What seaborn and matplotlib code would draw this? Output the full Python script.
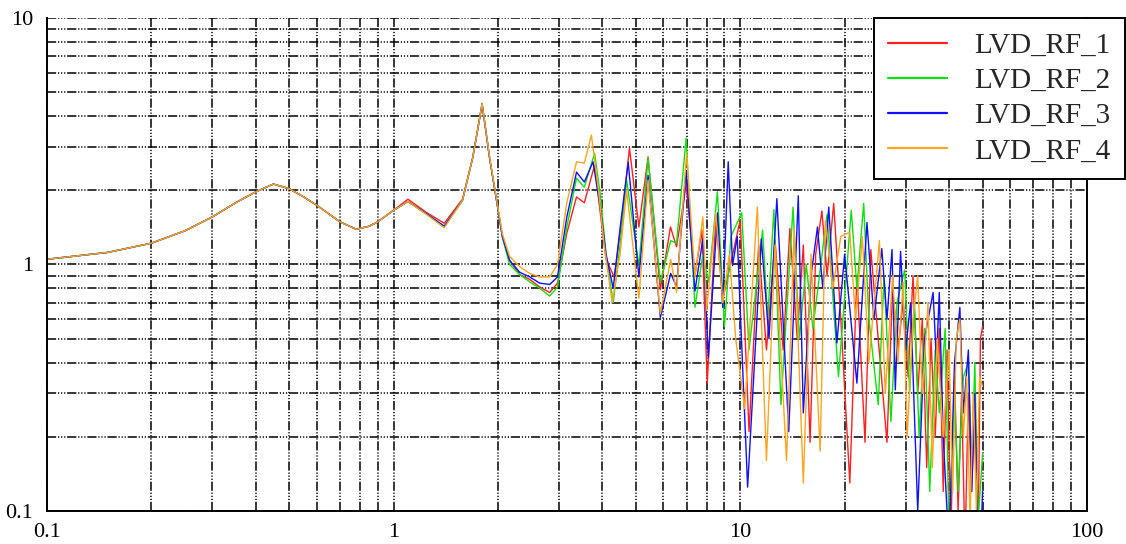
import matplotlib
matplotlib.use("Agg")
import matplotlib.pyplot as plt
from matplotlib.ticker import LogLocator, NullFormatter, FixedLocator, FixedFormatter
import seaborn as sns
import pandas as pd

# shared low-frequency part (all four responses coincide here)
base_f = [0.1, 0.15, 0.2, 0.25, 0.3, 0.35, 0.4, 0.45, 0.5, 0.55, 0.6, 0.7, 0.78, 0.85, 0.9, 1.0]
base_a = [1.05, 1.12, 1.22, 1.37, 1.56, 1.78, 1.97, 2.12, 2.03, 1.88, 1.74, 1.49, 1.39, 1.43, 1.49, 1.66]

rf1_f = [1.1, 1.24, 1.40, 1.58, 1.69, 1.74, 1.80, 1.89, 1.98, 2.06, 2.16, 2.31, 2.47, 2.64, 2.82, 2.97,
         3.16, 3.37, 3.55, 3.8, 3.95, 4.1, 4.33, 4.55, 4.79, 5.1, 5.42, 5.88, 6.29, 6.55, 6.98, 7.4,
         7.75, 8.03, 8.5, 8.9, 10.0, 10.6, 11.3, 11.9, 12.6, 13.3, 13.9, 14.6, 15.2, 15.9, 16.5, 17.2,
         17.8, 18.6, 19.5, 20.7, 21.7, 22.9, 23.8, 25.0, 26.5, 27.5, 28.5, 29.5, 30.5, 31.5, 32.5, 33.5,
         34.5, 35.5, 36.5, 37.5, 38.5, 39.5, 40.5, 41.5, 42.5, 43.5, 44.5, 45.5, 46.5, 47.5, 48.5, 49.3, 50.0]
rf1_a = [1.84, 1.63, 1.47, 1.84, 2.7, 3.4, 4.45, 2.73, 1.83, 1.29, 1.04, 0.91, 0.87, 0.81, 0.77, 0.84,
         1.34, 1.88, 1.78, 2.53, 1.6, 1.05, 0.89, 1.5, 2.97, 1.42, 2.73, 0.79, 1.42, 1.18, 2.1, 0.9,
         1.38, 0.33, 1.56, 0.72, 1.52, 0.21, 1.2, 0.45, 1.25, 0.45, 1.4, 0.5, 1.2, 0.19, 1.1, 1.65,
         0.9, 1.77, 0.6, 0.13, 0.9, 0.19, 1.15, 0.5, 0.19, 0.8, 0.45, 0.7, 0.35, 0.9, 0.3, 0.6,
         0.15, 0.5, 0.2, 0.55, 0.12, 0.45, 0.08, 0.35, 0.1, 0.3, 0.07, 0.3, 0.12, 0.25, 0.07, 0.5, 0.56]

rf2_f = [1.1, 1.24, 1.40, 1.58, 1.69, 1.74, 1.80, 1.89, 1.98, 2.06, 2.16, 2.31, 2.47, 2.64, 2.82, 2.97,
         3.16, 3.37, 3.55, 3.8, 3.95, 4.1, 4.3, 4.5, 4.7, 5.1, 5.42, 5.88, 6.3, 6.55, 6.98, 7.4,
         7.8, 8.1, 8.59, 9.0, 9.4, 10.1, 10.6, 11.6, 12.0, 12.5, 13.1, 14.2, 14.8, 15.5, 16.2, 17.8,
         19.2, 20.9, 21.7, 22.7, 23.5, 25.0, 26.0, 27.2, 28.3, 29.8, 30.8, 31.8, 32.8, 34.0, 35.2, 36.5,
         37.5, 39.0, 40.0, 41.5, 42.5, 44.0, 45.5, 46.5, 47.5, 48.5, 50.0]
rf2_a = [1.80, 1.61, 1.43, 1.82, 2.7, 3.4, 4.5, 2.73, 1.83, 1.29, 1.0, 0.91, 0.85, 0.80, 0.745, 0.81,
         1.42, 2.24, 2.06, 2.83, 1.9, 1.1, 0.70, 1.2, 2.2, 0.99, 2.7, 0.85, 1.25, 1.22, 3.26, 0.67,
         1.1, 0.85, 1.97, 0.56, 1.3, 1.62, 0.45, 1.38, 0.6, 1.67, 0.27, 1.71, 0.5, 1.0, 0.55, 1.6,
         0.35, 1.66, 0.8, 1.77, 0.6, 0.27, 0.9, 0.23, 0.7, 0.95, 0.3, 0.7, 0.2, 0.55, 0.12, 0.45,
         0.25, 0.55, 0.08, 0.3, 0.12, 0.35, 0.4, 0.15, 0.4, 0.09, 0.17]

rf3_f = [1.1, 1.24, 1.40, 1.58, 1.69, 1.74, 1.80, 1.89, 1.98, 2.06, 2.16, 2.31, 2.47, 2.64, 2.82, 2.97,
         3.16, 3.37, 3.55, 3.76, 3.95, 4.1, 4.3, 4.5, 4.75, 5.1, 5.42, 5.88, 6.3, 6.55, 6.98, 7.4,
         7.8, 8.09, 8.6, 8.9, 9.23, 9.5, 9.8, 10.5, 11.5, 12.1, 12.75, 13.8, 14.7, 15.2, 16.0, 16.7,
         17.3, 18.0, 19.0, 20.0, 21.7, 23.2, 24.3, 25.6, 26.5, 27.4, 28.0, 29.0, 30.0, 31.0, 32.5, 34.0,
         36.0, 36.8, 37.5, 38.5, 40.0, 41.5, 43.0, 44.0, 45.5, 46.5, 47.5, 48.5, 49.5, 50.0]
rf3_a = [1.80, 1.61, 1.43, 1.82, 2.7, 3.4, 4.5, 2.73, 1.83, 1.3, 1.04, 0.93, 0.89, 0.84, 0.83, 0.89,
         1.56, 2.37, 2.16, 2.61, 1.7, 1.1, 0.80, 1.4, 2.6, 0.89, 2.3, 0.61, 0.92, 0.81, 2.4, 0.78,
         1.27, 0.42, 1.62, 0.67, 2.61, 0.99, 1.3, 0.125, 1.27, 0.5, 1.85, 0.21, 1.9, 0.25, 0.9, 1.42,
         0.8, 1.71, 0.48, 1.1, 0.33, 1.48, 0.6, 1.16, 0.6, 1.15, 0.31, 1.13, 0.45, 0.7, 0.1, 0.5,
         0.77, 0.4, 0.77, 0.2, 0.07, 0.4, 0.67, 0.25, 0.45, 0.12, 0.3, 0.07, 0.08, 0.12]

rf4_f = [1.1, 1.24, 1.40, 1.58, 1.69, 1.74, 1.80, 1.89, 1.98, 2.06, 2.16, 2.31, 2.47, 2.64, 2.82, 2.97,
         3.16, 3.37, 3.55, 3.72, 3.9, 4.05, 4.27, 4.5, 4.7, 5.1, 5.42, 5.88, 6.3, 6.55, 7.0, 7.4,
         7.8, 8.0, 8.5, 8.9, 9.3, 9.7, 10.3, 11.2, 11.9, 12.6, 13.6, 14.3, 15.2, 16.0, 17.0, 17.6,
         18.5, 19.5, 20.7, 21.5, 22.5, 23.5, 25.2, 26.2, 27.5, 28.5, 29.5, 30.3, 31.5, 32.5, 33.5, 34.8,
         35.8, 37.0, 38.5, 40.0, 41.0, 42.0, 43.0, 44.0, 45.0, 46.0, 47.0, 48.0, 49.0, 50.0]
rf4_a = [1.80, 1.60, 1.41, 1.82, 2.7, 3.4, 4.5, 2.75, 1.85, 1.33, 1.08, 0.98, 0.92, 0.89, 0.89, 1.0,
         1.78, 2.61, 2.58, 3.35, 2.0, 1.2, 0.70, 1.1, 2.0, 0.73, 2.2, 0.63, 1.05, 0.77, 2.83, 0.89,
         1.56, 0.65, 1.62, 0.7, 1.1, 0.5, 0.26, 1.71, 0.16, 1.2, 0.16, 1.4, 0.13, 1.1, 0.175, 1.5,
         0.8, 1.3, 1.35, 0.6, 1.3, 0.4, 1.25, 0.3, 0.9, 0.4, 0.85, 0.2, 0.6, 0.9, 0.3, 0.7,
         0.15, 0.5, 0.2, 0.45, 0.12, 0.5, 0.6, 0.2, 0.35, 0.09, 0.3, 0.1, 0.35, 0.32]

names = ["LVD_RF_1", "LVD_RF_2", "LVD_RF_3", "LVD_RF_4"]
colors = ["#ff2020", "#10e010", "#1010ff", "#ffa520"]

frames = []
for name, f, a in zip(names, [rf1_f, rf2_f, rf3_f, rf4_f], [rf1_a, rf2_a, rf3_a, rf4_a]):
    frames.append(pd.DataFrame({"freq": base_f + f, "amp": base_a + a, "series": name}))
df = pd.concat(frames, ignore_index=True)

sns.set_theme(style="white")
plt.rcParams["font.family"] = ["Liberation Serif", "DejaVu Serif"]

fig = plt.figure(figsize=(11.26, 5.44), dpi=100)
ax = fig.add_axes([0.0417, 0.0607, 0.9236, 0.9062])

sns.lineplot(data=df, x="freq", y="amp", hue="series", palette=dict(zip(names, colors)),
             estimator=None, sort=False, linewidth=1.0, ax=ax)

ax.set_xscale("log")
ax.set_yscale("log")
ax.set_xlim(0.1, 100)
ax.set_ylim(0.1, 10)

grid_style = dict(color="black", linewidth=1.1, linestyle=(0, (6, 1.2, 0.8, 1.2, 0.8, 1.2, 0.8, 1.2)))
ax.xaxis.set_minor_locator(LogLocator(base=10, subs=range(2, 10)))
ax.yaxis.set_minor_locator(LogLocator(base=10, subs=range(2, 10)))
ax.xaxis.set_minor_formatter(NullFormatter())
ax.yaxis.set_minor_formatter(NullFormatter())
ax.xaxis.set_major_locator(FixedLocator([0.1, 1, 10, 100]))
ax.xaxis.set_major_formatter(FixedFormatter(["0.1", "1", "10", "100"]))
ax.yaxis.set_major_locator(FixedLocator([0.1, 1, 10]))
ax.yaxis.set_major_formatter(FixedFormatter(["0.1", "1", "10"]))
ax.grid(True, which="both", **grid_style)
ax.set_axisbelow(True)
ax.tick_params(which="both", length=0, labelsize=16, colors="black")
ax.tick_params(axis="x", pad=9)
ax.tick_params(axis="y", pad=10)
ax.set_xlabel("")
ax.set_ylabel("")

ax.spines["top"].set_visible(False)
for s in ["left", "bottom", "right"]:
    ax.spines[s].set_color("black")
    ax.spines[s].set_linewidth(1.4)

leg = ax.legend(loc="upper left", bbox_to_anchor=(0.795, 1.0), frameon=True, fancybox=False,
                fontsize=21, handlelength=2.0, handletextpad=0.95, labelspacing=0.3,
                borderpad=0.5, borderaxespad=0.0)
leg.get_frame().set_edgecolor("black")
leg.get_frame().set_linewidth(1.4)
leg.get_frame().set_alpha(1.0)
for line in leg.get_lines():
    line.set_linewidth(1.6)

fig.savefig("out.png", dpi=100)
